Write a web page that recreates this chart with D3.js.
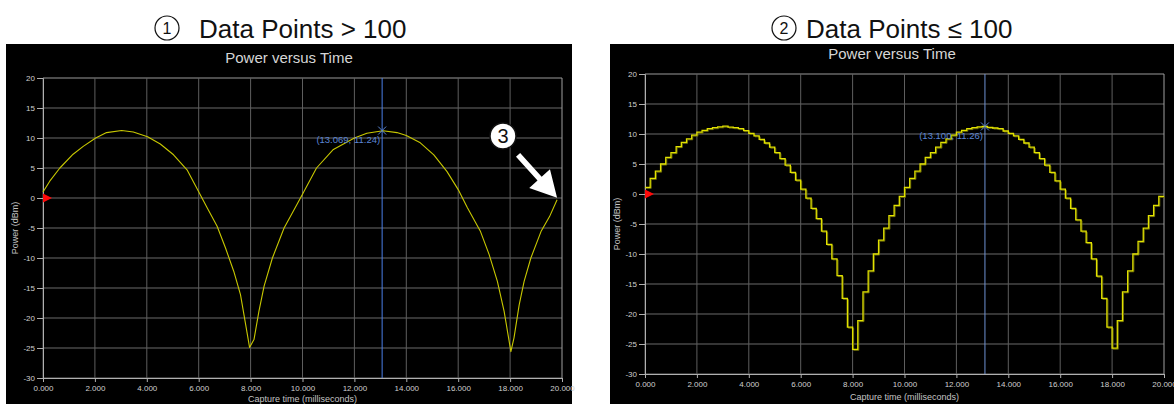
<!DOCTYPE html>
<html>
<head>
<meta charset="utf-8">
<script src="https://cdn.jsdelivr.net/npm/d3@7"></script>
<style>
  body { margin: 0; background: #fff; }
  svg { display: block; }
</style>
</head>
<body>
<svg id="chart" width="1174" height="404"></svg>
<script>
// axis ticks shared by both panels
var xTicks = [0, 2, 4, 6, 8, 10, 12, 14, 16, 18, 20];
var yTicks = [20, 15, 10, 5, 0, -5, -10, -15, -20, -25, -30];

// panel 1: more than 100 points, drawn as a line (time in ms, power in dBm)
var leftTimes = [0, 0.26, 0.65, 1.16, 1.55, 2.03, 2.45, 3.03, 3.48, 4.03, 4.52, 5.03, 5.55, 6.03,
    6.32, 6.71, 7.03, 7.35, 7.61, 7.81, 7.96, 8.13, 8.32, 8.52, 8.84, 9.29, 9.68, 10.01,
    10.54, 11.19, 12.0, 12.48, 13.1, 13.64, 14.0, 14.54, 15.06, 15.57, 16.0, 16.35, 16.86,
    17.19, 17.51, 17.77, 18.03, 18.15, 18.35, 18.54, 18.8, 19.19, 19.52, 19.81];
var leftPower = [1.0, 2.8, 5.0, 7.3, 8.6, 10.0, 10.9, 11.25, 11.0, 10.2, 9.0, 7.2, 4.7, 0.8,
    -1.6, -4.7, -8.3, -12.2, -16.1, -21.1, -24.9, -23.6, -18.9, -14.7, -10.0, -5.0, -1.9, 0.7,
    5.0, 8.1, 10.0, 10.8, 11.2, 10.9, 10.4, 9.2, 7.2, 4.4, 1.4, -1.6, -5.6,
    -9.4, -13.9, -18.9, -25.6, -23.3, -17.8, -13.9, -10.0, -5.6, -3.1, -0.3];

// panel 2: 100 points, drawn as steps of 0.2 ms
var stepInterval = 0.2;
var stepPower = [1.1, 2.6, 3.8, 5.0, 6.1, 6.9, 7.9, 8.6, 9.2, 9.8,
    10.3, 10.6, 10.9, 11.05, 11.2, 11.3, 11.15, 11.05, 10.9, 10.55,
    10.1, 9.7, 9.1, 8.5, 7.8, 6.9, 5.9, 4.8, 3.6, 2.3,
    0.8, -0.7, -2.4, -4.1, -6.2, -8.4, -10.8, -13.6, -17.4, -22.2,
    -25.9, -21.1, -16.3, -12.8, -10.0, -7.7, -5.7, -3.6, -1.9, -0.4,
    1.1, 2.6, 3.8, 5.0, 6.1, 6.9, 7.8, 8.6, 9.2, 9.8,
    10.3, 10.6, 10.9, 11.05, 11.2, 11.26, 11.1, 11.0, 10.9, 10.5,
    10.1, 9.7, 9.1, 8.5, 7.8, 6.9, 5.9, 4.8, 3.6, 2.2,
    0.8, -0.7, -2.4, -4.3, -6.2, -8.1, -10.8, -13.7, -17.4, -22.2,
    -25.7, -21.1, -16.3, -12.8, -10.0, -7.9, -5.7, -3.6, -1.9, -0.4];

// marker readouts
var leftMarker = [13.069, 11.24];
var rightMarker = [13.100, 11.26];

var svg = d3.select("#chart");
var font = "'Liberation Sans', Arial, sans-serif";

function drawPanel(cfg){
    var g = svg.append("g");

    //black background
    g.append("rect")
        .attr("x", cfg.bx).attr("y", cfg.by)
        .attr("width", cfg.bw).attr("height", cfg.bh)
        .attr("fill", "#000");

    var x = d3.scaleLinear().domain([0, 20]).range([cfg.left, cfg.right]);
    var y = d3.scaleLinear().domain([-30, 20]).range([cfg.bottom, cfg.top]);

    //title
    g.append("text")
        .attr("x", cfg.bx + cfg.bw/2).attr("y", cfg.titleY)
        .attr("text-anchor", "middle")
        .attr("font-family", font).attr("font-size", 15)
        .attr("fill", "#d6d6d6")
        .text("Power versus Time");

    //grid
    g.selectAll("line.hgrid").data(yTicks).enter().append("line")
        .attr("x1", cfg.left).attr("x2", cfg.right)
        .attr("y1", function(d){ return y(d); })
        .attr("y2", function(d){ return y(d); })
        .attr("stroke", function(d){ return d == 20 ? "#9a9a9a" : "#6a6a6a"; })
        .attr("stroke-width", 1);
    g.selectAll("line.vgrid").data(xTicks).enter().append("line")
        .attr("y1", cfg.top).attr("y2", cfg.bottom)
        .attr("x1", function(d){ return x(d); })
        .attr("x2", function(d){ return x(d); })
        .attr("stroke", function(d){ return d == 20 ? "#a0a0a0" : "#5e5e5e"; })
        .attr("stroke-width", 1);

    //axes
    var yAxis = d3.axisLeft(y).tickValues(yTicks).tickSize(6).tickPadding(2)
        .tickFormat(function(d){ return String(d); });
    var xAxis = d3.axisBottom(x).tickValues(xTicks).tickSize(4).tickPadding(3)
        .tickFormat(d3.format(".3f"));

    var ya = g.append("g").attr("transform", "translate(" + cfg.left + ",0)").call(yAxis);
    var xa = g.append("g").attr("transform", "translate(0," + cfg.bottom + ")").call(xAxis);
    [ya, xa].forEach(function(a){
        a.select(".domain").attr("stroke", "#b0b0b0");
        a.selectAll(".tick line").attr("stroke", "#b0b0b0");
        a.selectAll(".tick text")
            .attr("fill", "#cfcfcf")
            .attr("font-family", font)
            .attr("font-size", 8);
    });

    //axis titles
    g.append("text")
        .attr("transform", "translate(" + (cfg.left - 25) + "," + ((cfg.top + cfg.bottom)/2) + ") rotate(-90)")
        .attr("text-anchor", "middle")
        .attr("font-family", font).attr("font-size", 9)
        .attr("fill", "#c4c4c4")
        .text("Power (dBm)");
    g.append("text")
        .attr("x", (cfg.left + cfg.right)/2).attr("y", cfg.xTitleY)
        .attr("text-anchor", "middle")
        .attr("font-family", font).attr("font-size", 9)
        .attr("fill", "#c4c4c4")
        .text("Capture time (milliseconds)");

    //marker line
    g.append("line")
        .attr("x1", x(cfg.marker[0])).attr("x2", x(cfg.marker[0]))
        .attr("y1", cfg.top).attr("y2", cfg.bottom)
        .attr("stroke", cfg.markerLine).attr("stroke-width", 1);

    //trace
    if(cfg.steps){
        var pts = stepPower.map(function(v, i){ return [i*stepInterval, v]; });
        pts.push([stepPower.length*stepInterval, stepPower[stepPower.length-1]]);
        var stepLine = d3.line()
            .x(function(d){ return x(d[0]); })
            .y(function(d){ return y(d[1]); })
            .curve(d3.curveStepAfter);
        g.append("path").datum(pts)
            .attr("d", stepLine)
            .attr("transform", "translate(1,1)")
            .attr("fill", "none").attr("stroke", "#6a6a08").attr("stroke-width", 1);
        g.append("path").datum(pts)
            .attr("d", stepLine)
            .attr("fill", "none").attr("stroke", "#e2e200").attr("stroke-width", 1.3);
    } else {
        var pts = leftTimes.map(function(t, i){ return [t, leftPower[i]]; });
        g.append("path").datum(pts)
            .attr("d", d3.line()
                .x(function(d){ return x(d[0]); })
                .y(function(d){ return y(d[1]); }))
            .attr("fill", "none").attr("stroke", "#c8c800").attr("stroke-width", 1.1)
            .attr("stroke-linejoin", "round");
    }

    //reference level triangle
    var y0 = y(0);
    g.append("polygon")
        .attr("points", [[cfg.left, y0-4.5], [cfg.left+9, y0], [cfg.left, y0+4.5]].join(" "))
        .attr("fill", "#ff0a0a");

    //marker cross + readout
    var mx = x(cfg.marker[0]), my = y(cfg.marker[1]);
    g.append("path")
        .attr("d", "M" + (mx-4) + "," + (my-4) + "L" + (mx+4) + "," + (my+4) +
                   "M" + (mx-4) + "," + (my+4) + "L" + (mx+4) + "," + (my-4))
        .attr("stroke", "#5b86d6").attr("stroke-width", 1).attr("fill", "none");
    g.append("text")
        .attr("x", mx - 2).attr("y", my + 12.5)
        .attr("text-anchor", "end")
        .attr("font-family", font).attr("font-size", 9.5)
        .attr("fill", "#5b86d6")
        .text("(" + cfg.marker[0].toFixed(3) + ", " + cfg.marker[1].toFixed(2) + ")");

    return {x: x, y: y};
}

function header(cx, tx, label, num){
    svg.append("circle")
        .attr("cx", cx).attr("cy", 28).attr("r", 12)
        .attr("fill", "none").attr("stroke", "#111").attr("stroke-width", 1.2);
    svg.append("text")
        .attr("x", cx).attr("y", 34)
        .attr("text-anchor", "middle")
        .attr("font-family", font).attr("font-size", 16)
        .attr("fill", "#111")
        .text(num);
    svg.append("text")
        .attr("x", tx).attr("y", 38)
        .attr("font-family", font).attr("font-size", 26)
        .attr("fill", "#111")
        .text(label);
}

header(167, 199, "Data Points > 100", "1");
header(784, 806, "Data Points \u2264 100", "2");

var left = drawPanel({
    bx: 6, by: 44, bw: 566, bh: 360,
    left: 43, right: 562, top: 78, bottom: 378, titleY: 63, xTitleY: 402,
    marker: leftMarker, markerLine: "#4a7ee8", steps: false
});
drawPanel({
    bx: 610, by: 44, bw: 564, bh: 360,
    left: 645, right: 1164, top: 74, bottom: 374, titleY: 59, xTitleY: 400,
    marker: rightMarker, markerLine: "#6f93d4", steps: true
});

//callout 3 pointing at the end of the first trace
var tipX = left.x(leftTimes[leftTimes.length-1]);
var tipY = left.y(leftPower[leftPower.length-1]) - 2;
var sx = tipX - 39, sy = tipY - 43;
var ang = Math.atan2(tipY - sy, tipX - sx);
var headLen = 26, headW = 14, shaftW = 2.8;
var ux = Math.cos(ang), uy = Math.sin(ang), nx = -uy, ny = ux;
var bxp = tipX - ux*headLen, byp = tipY - uy*headLen;
var arrowPts = [
    [sx + nx*shaftW, sy + ny*shaftW],
    [bxp + nx*shaftW, byp + ny*shaftW],
    [bxp + nx*headW, byp + ny*headW],
    [tipX, tipY],
    [bxp - nx*headW, byp - ny*headW],
    [bxp - nx*shaftW, byp - ny*shaftW],
    [sx - nx*shaftW, sy - ny*shaftW]
];
svg.append("polygon")
    .attr("points", arrowPts.join(" "))
    .attr("fill", "#fff");
svg.append("circle")
    .attr("cx", 503).attr("cy", 136).attr("r", 13)
    .attr("fill", "#fff").attr("stroke", "#111").attr("stroke-width", 1.5);
svg.append("text")
    .attr("x", 503).attr("y", 143)
    .attr("text-anchor", "middle")
    .attr("font-family", font).attr("font-size", 20)
    .attr("fill", "#111")
    .text("3");
</script>
</body>
</html>
